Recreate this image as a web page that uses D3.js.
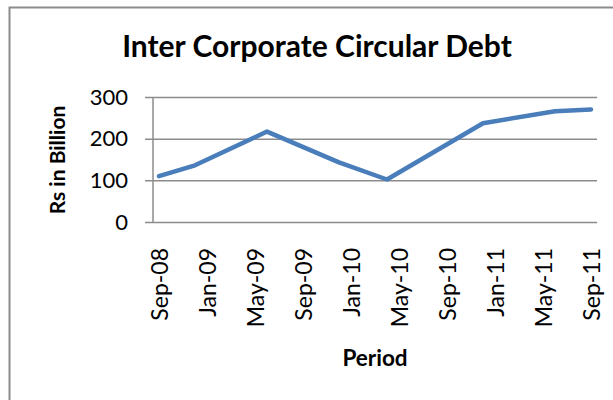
<!DOCTYPE html>
<html>

<head>
  <meta charset="utf-8" />
  <title>Inter Corporate Circular Debt</title>
  <style>
    body {
      margin: 0;
      background: #fff;
    }

    svg {
      display: block;
      font-family: Lato, "Open Sans", sans-serif;
    }

    .grid line {
      stroke: #8c8c8c;
      stroke-width: 1.5px;
    }

    .debt-line {
      fill: none;
      stroke: #4a7ebb;
      stroke-width: 4.5px;
      stroke-linejoin: round;
      stroke-linecap: round;
    }
  </style>
  <script src="https://cdnjs.cloudflare.com/ajax/libs/d3/7.8.5/d3.min.js"></script>
</head>

<body>
  <div id="chartArea"></div>
  <script>
    // observations (month of reading) and amount in Rs billion
    var periods = ['2008-09', '2008-12', '2009-06', '2009-12', '2010-04', '2010-12', '2011-06', '2011-09'];
    var debt = [110, 136, 217, 143, 102, 237, 266, 270];
    var tickMonths = ['2008-09', '2009-01', '2009-05', '2009-09', '2010-01', '2010-05', '2010-09', '2011-01', '2011-05', '2011-09'];
    var tickLabels = ['Sep-08', 'Jan-09', 'May-09', 'Sep-09', 'Jan-10', 'May-10', 'Sep-10', 'Jan-11', 'May-11', 'Sep-11'];
    var yTicks = [0, 100, 200, 300];

    var parse = d3.timeParse('%Y-%m');
    var start = parse(periods[0]);
    var monthNo = s => d3.timeMonth.count(start, parse(s));

    var dataset = periods.map((p, i) => ({ m: monthNo(p), v: debt[i] }));
    var lastMonth = monthNo(tickMonths[tickMonths.length - 1]);

    var W = 613, H = 400;
    var plot = { left: 153, right: 597, top: 97, bottom: 222 };

    // Excel date axis: one slot per month, points in the middle of the slot
    var x = d3.scaleLinear()
      .domain([-0.5, lastMonth + 0.5])
      .range([plot.left, plot.right]);

    var y = d3.scaleLinear()
      .domain([0, 300])
      .range([plot.bottom, plot.top]);

    var svg = d3.select('#chartArea').append('svg')
      .attr('width', W)
      .attr('height', H);

    svg.append('rect')
      .attr('width', W).attr('height', H)
      .attr('fill', '#fff');

    // chart frame, runs off the right and bottom edges
    svg.append('rect')
      .attr('x', 9.5).attr('y', 7.5)
      .attr('width', 700).attr('height', 500)
      .attr('fill', 'none')
      .attr('stroke', '#8c8c8c')
      .attr('stroke-width', 2);

    svg.append('text')
      .attr('x', 317).attr('y', 57)
      .attr('text-anchor', 'middle')
      .attr('font-weight', 'bold')
      .attr('font-size', 30)
      .text('Inter Corporate Circular Debt');

    // horizontal gridlines + outer ticks
    var yAxis = d3.axisLeft(y)
      .tickValues(yTicks)
      .tickSize(-(plot.right - plot.left))
      .tickSizeOuter(0);

    var gy = svg.append('g')
      .attr('class', 'grid')
      .attr('transform', 'translate(' + plot.left + ',0)')
      .call(yAxis);
    gy.select('.domain').remove();
    gy.selectAll('.tick line')
      .attr('x1', -8);
    gy.selectAll('.tick text')
      .attr('x', -25)
      .attr('font-size', 22)
      .attr('font-family', 'Lato')
      .attr('fill', '#000');

    svg.append('line')
      .attr('x1', plot.left).attr('x2', plot.left)
      .attr('y1', plot.top).attr('y2', plot.bottom)
      .attr('stroke', '#8c8c8c')
      .attr('stroke-width', 1.5);

    var xAxis = d3.axisBottom(x)
      .tickValues(tickMonths.map(monthNo))
      .tickFormat((d, i) => tickLabels[i])
      .tickSize(0);

    var gx = svg.append('g')
      .attr('transform', 'translate(0,' + plot.bottom + ')')
      .call(xAxis);
    gx.select('.domain').remove();
    gx.selectAll('.tick text')
      .attr('transform', 'rotate(-90)')
      .attr('text-anchor', 'end')
      .attr('x', -26)
      .attr('y', 0)
      .attr('dy', '0.35em')
      .attr('font-size', 23)
      .attr('font-family', 'Lato')
      .attr('fill', '#000');

    var line = d3.line()
      .x(d => x(d.m))
      .y(d => y(d.v));

    svg.append('path')
      .datum(dataset)
      .attr('class', 'debt-line')
      .attr('d', line);

    svg.append('text')
      .attr('transform', 'translate(65,160) rotate(-90)')
      .attr('text-anchor', 'middle')
      .attr('font-weight', 'bold')
      .attr('font-size', 21)
      .text('Rs in Billion');

    svg.append('text')
      .attr('x', (plot.left + plot.right) / 2).attr('y', 366)
      .attr('text-anchor', 'middle')
      .attr('font-weight', 'bold')
      .attr('font-size', 22.5)
      .text('Period');
  </script>
</body>

</html>
